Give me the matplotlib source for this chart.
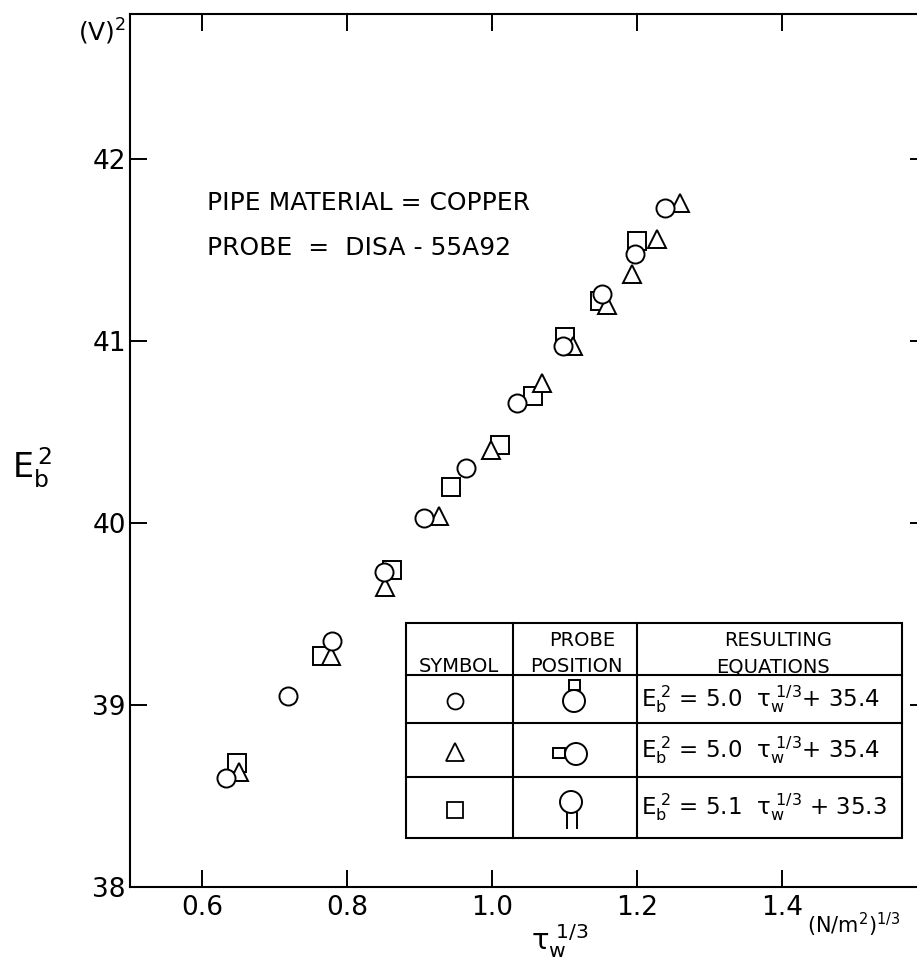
import numpy as np
import matplotlib
matplotlib.use('Agg')
import matplotlib.pyplot as plt
from matplotlib.patches import Circle, Rectangle
from matplotlib.lines import Line2D
from matplotlib.transforms import Affine2D

# probe position: stem up (circles)
tau_circle = [0.632, 0.718, 0.779, 0.850, 0.906, 0.964, 1.034, 1.097, 1.152, 1.197, 1.239]
e2_circle = [38.60, 39.05, 39.35, 39.73, 40.03, 40.30, 40.66, 40.97, 41.26, 41.48, 41.73]

# probe position: stem sideways (triangles)
tau_triangle = [0.651, 0.777, 0.852, 0.927, 0.998, 1.068, 1.112, 1.158, 1.193, 1.228, 1.259]
e2_triangle = [38.63, 39.27, 39.65, 40.04, 40.40, 40.77, 40.97, 41.20, 41.37, 41.56, 41.76]

# probe position: stem down (squares)
tau_square = [0.648, 0.765, 0.862, 0.943, 1.011, 1.056, 1.100, 1.149, 1.200]
e2_square = [38.68, 39.27, 39.74, 40.20, 40.43, 40.70, 41.02, 41.22, 41.55]

x_ticks = [0.6, 0.8, 1.0, 1.2, 1.4]
x_tick_labels = ['0.6', '0.8', '1.0', '1.2', '1.4']
y_ticks = [38, 39, 40, 41, 42]
y_tick_labels = ['38', '39', '40', '41', '42']

equations = [r'$\mathrm{E_b^{\ 2}}$ = 5.0  $\mathrm{\tau_w^{\ 1/3}}$+ 35.4',
             r'$\mathrm{E_b^{\ 2}}$ = 5.0  $\mathrm{\tau_w^{\ 1/3}}$+ 35.4',
             r'$\mathrm{E_b^{\ 2}}$ = 5.1  $\mathrm{\tau_w^{\ 1/3}}$ + 35.3']

W, H = 917, 971
plt.rcParams['font.family'] = ['DejaVu Sans']
plt.rcParams['mathtext.fontset'] = 'dejavusans'

fig = plt.figure(figsize=(W / 100, H / 100), dpi=100)
ax = fig.add_axes([130 / W, (H - 887) / H, 797 / W, 873 / H])
px = Affine2D().scale(1, -1).translate(0, H)   # pixel coords, origin top-left

mk = dict(linestyle='none', markerfacecolor='white', markeredgecolor='black',
          markeredgewidth=1.4, markersize=13)
ax.plot(tau_square, e2_square, marker='s', **mk)
ax.plot(tau_triangle, e2_triangle, marker='^', **mk)
ax.plot(tau_circle, e2_circle, marker='o', **mk)

ax.set_xlim(0.5, 1.6)
ax.set_ylim(38, 38 + 873 / 182)
ax.set_xticks(x_ticks)
ax.set_xticklabels(x_tick_labels)
ax.set_yticks(y_ticks)
ax.set_yticklabels(y_tick_labels)
ax.tick_params(direction='in', length=12, width=1.4, top=True, right=True,
               labelsize=19, pad=6)
ax.tick_params(axis='y', pad=3)
for s in ax.spines.values():
    s.set_linewidth(1.5)

ax.annotate(r'(N/m$^2$)$^{1/3}$', xy=(1.4, 38), xycoords='data',
            xytext=(18, -17), textcoords='offset points',
            fontsize=15, ha='left', va='top')

fig.text(560, 950, r'$\mathrm{\tau_w^{\ 1/3}}$', fontsize=21, ha='center',
         va='baseline', transform=px)
fig.text(32, 468, r'$\mathrm{E_b^{\,2}}$', fontsize=24, ha='center', va='center',
         transform=px)
fig.text(102, 32, r'(V)$^2$', fontsize=18, ha='center', va='center', transform=px)

fig.text(207, 203, 'PIPE MATERIAL = COPPER', fontsize=18, va='center', ha='left',
         transform=px)
fig.text(207, 248, 'PROBE  =  DISA - 55A92', fontsize=18, va='center', ha='left',
         transform=px)

# legend table
col_edges = [406, 513, 637, 902]
row_edges = [623, 675, 723, 777, 838]
fig.add_artist(Rectangle((col_edges[0], row_edges[0]), col_edges[-1] - col_edges[0],
                         row_edges[-1] - row_edges[0], fill=False, lw=1.5,
                         edgecolor='black', transform=px))
for c in col_edges[1:-1]:
    fig.add_artist(Line2D([c, c], [row_edges[0], row_edges[-1]], lw=1.5, color='black', transform=px))
for r in row_edges[1:-1]:
    fig.add_artist(Line2D([col_edges[0], col_edges[-1]], [r, r], lw=1.5, color='black', transform=px))

hdr = dict(fontsize=14, ha='center', va='baseline', transform=px)
fig.text(459, 672, 'SYMBOL', **hdr)
fig.text(582, 646, 'PROBE', **hdr)
fig.text(576, 672, 'POSITION', **hdr)
fig.text(778, 646, 'RESULTING', **hdr)
fig.text(773, 672, 'EQUATIONS', **hdr)

row_mid = [(row_edges[i] + row_edges[i + 1]) / 2 for i in range(1, 4)]
for m, y, ms in zip(['o', '^', 's'], row_mid, [11.5, 13, 12]):
    fig.add_artist(Line2D([455], [y + 2], marker=m, markersize=ms, markerfacecolor='white',
                          markeredgecolor='black', markeredgewidth=1.3, transform=px))

pk = dict(fill=False, lw=1.4, edgecolor='black', transform=px)
fig.add_artist(Circle((574, 701), 11, **pk))
fig.add_artist(Rectangle((569, 680), 11, 10, **pk))
fig.add_artist(Circle((576, 754), 11, **pk))
fig.add_artist(Rectangle((553, 748), 12, 10, **pk))
fig.add_artist(Circle((571, 802), 11, **pk))
for xs, ys in [([567, 567], [813, 828]), ([577, 577], [813, 828])]:
    fig.add_artist(Line2D(xs, ys, lw=1.4, color='black', transform=px))

for eq, y in zip(equations, row_mid):
    fig.text(641, y, eq, fontsize=16.5, ha='left', va='center', transform=px)

fig.savefig('out.png', dpi=100, facecolor='white')
